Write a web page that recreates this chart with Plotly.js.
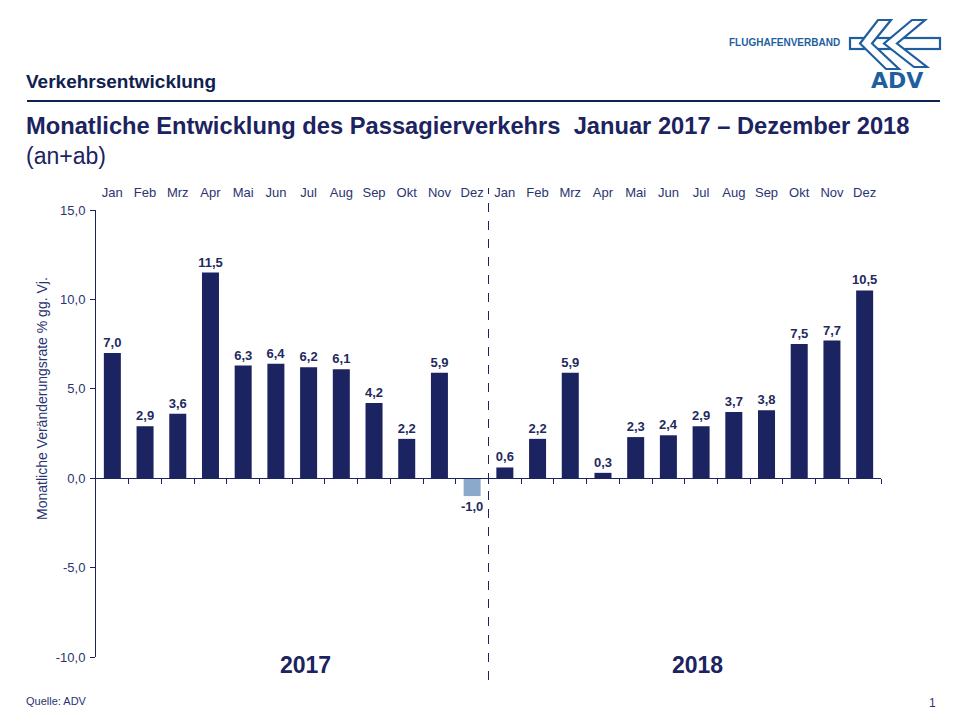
<!DOCTYPE html>
<html>
<head>
<meta charset="utf-8">
<script src="https://cdn.plot.ly/plotly-3.0.1.min.js"></script>
<style>html,body{margin:0;padding:0;background:#fff;}#chart{width:960px;height:720px;}</style>
</head>
<body>
<div id="chart"></div>
<script>
// ---- data ----
const months = ["Jan","Feb","Mrz","Apr","Mai","Jun","Jul","Aug","Sep","Okt","Nov","Dez",
                "Jan","Feb","Mrz","Apr","Mai","Jun","Jul","Aug","Sep","Okt","Nov","Dez"];
const years = ["2017","2018"];
const values = [7.0,2.9,3.6,11.5,6.3,6.4,6.2,6.1,4.2,2.2,5.9,-1.0,
                0.6,2.2,5.9,0.3,2.3,2.4,2.9,3.7,3.8,7.5,7.7,10.5];
const yTicks = [-10,-5,0,5,10,15];

// ---- layout geometry helpers (pixel -> paper) ----
const W = 960, H = 720;
const L = 96, R = 79, T = 210, B = 63;
const PW = W - L - R, PH = H - T - B;
const px = x => (x - L) / PW;
const py = y => (H - B - y) / PH;

const navy = "#1b2360";
const textNavy = "#1f2a60";
const light = "#8aa9cb";
const logoBlue = "#1f5fa0";
const font = "Liberation Sans, Arial, sans-serif";

const fmt = v => v.toFixed(1).replace(".", ",");
const idx = months.map((_, i) => i);

const bars = {
  type: "bar",
  x: idx,
  y: values,
  marker: {color: values.map(v => v < 0 ? light : navy)},
  width: 0.52,
  text: values.map(fmt),
  textposition: "outside",
  constraintext: "none",
  cliponaxis: false,
  textfont: {family: font, size: 13, color: textNavy, weight: "bold"},
  hoverinfo: "skip",
  showlegend: false
};
const dummy = {type: "scatter", x: [0], y: [0], xaxis: "x2", yaxis: "y", mode: "none", hoverinfo: "skip", showlegend: false};

// boundaries between months
const bounds = idx.map(i => i + 0.5);

const logoSvg = `<svg xmlns="http://www.w3.org/2000/svg" width="110" height="80" viewBox="0 0 110 80">
<g fill="#fff" stroke="${logoBlue}" stroke-width="2.2" stroke-linejoin="miter">
<rect x="10" y="23" width="90" height="11"/>
<polygon points="38,5 51,5 32,28.5 59,54 46,54 20,28.5"/>
<polygon points="72,5 85,5 57,28.5 87,52 74,52 44,28.5"/>
</g></svg>`;

const ann = [];
const addText = (text, x, y, size, opts = {}) => ann.push(Object.assign({
  text, xref: "paper", yref: "paper", x: px(x), y: py(y), showarrow: false,
  xanchor: "left", yanchor: "middle", borderpad: 0,
  font: {family: font, size, color: opts.color || textNavy, weight: opts.weight || "normal"}
}, opts.extra || {}));

addText("Verkehrsentwicklung", 25, 82, 19, {weight: "bold", color: "#10204f"});
addText("Monatliche Entwicklung des Passagierverkehrs  Januar 2017 – Dezember 2018", 25, 126, 23.7, {weight: "bold", color: "#1b2360"});
addText("(an+ab)", 25, 156, 23, {color: "#1b2360"});
addText("FLUGHAFENVERBAND", 841, 43, 10, {weight: "bold", color: logoBlue, extra: {xanchor: "right"}});
addText("ADV", 897, 80, 23, {weight: "bold", color: logoBlue, extra: {xanchor: "center", font: {family: "DejaVu Sans, sans-serif", size: 22, color: logoBlue, weight: "bold"}}});
addText("Quelle: ADV", 25, 701, 11, {color: "#2a3470"});
addText("1", 937, 703, 12, {color: "#2a3470", extra: {xanchor: "right"}});
// y axis title
ann.push({text: "Monatliche Veränderungsrate % gg. Vj.", xref: "paper", yref: "paper",
  x: px(42), y: py(399), showarrow: false, textangle: -90, xanchor: "center", yanchor: "middle",
  font: {family: font, size: 14, color: "#2a3470"}});
// year labels, placed under their half of the category axis
years.forEach((yr, k) => ann.push({text: yr, xref: "x", yref: "paper", x: k * 12 + 5.9, y: py(665),
  showarrow: false, xanchor: "center", yanchor: "middle",
  font: {family: font, size: 23, color: navy, weight: "bold"}}));

const layout = {
  width: W, height: H,
  margin: {l: L, r: R, t: T, b: B},
  paper_bgcolor: "#fff", plot_bgcolor: "#fff",
  separators: ",.",
  font: {family: font, color: textNavy},
  xaxis: {
    range: [-0.5, 23.5], side: "top", tickvals: idx, ticktext: months,
    ticks: "", showline: false, showgrid: false, zeroline: false, ticklabelstandoff: 9,
    tickfont: {family: font, size: 13, color: "#2a3470"}, fixedrange: true
  },
  xaxis2: {
    overlaying: "x", anchor: "free", position: 0.4, range: [-0.5, 23.5],
    tickvals: bounds, ticks: "outside", ticklen: 5, tickcolor: navy, tickwidth: 1,
    showticklabels: false, showline: true, linecolor: navy, linewidth: 1,
    showgrid: false, zeroline: false
  },
  yaxis: {
    range: [-10, 15], tickvals: yTicks, ticktext: yTicks.map(fmt),
    ticks: "outside", ticklen: 5, tickcolor: navy, showline: true, linecolor: navy, linewidth: 1,
    showgrid: false, zeroline: false, ticklabelstandoff: 2,
    tickfont: {family: font, size: 13, color: "#2a3470"}
  },
  bargap: 0.48,
  shapes: [
    {type: "line", xref: "x", yref: "paper", x0: 11.5, x1: 11.5, y0: py(680), y1: py(188),
     line: {color: navy, width: 1, dash: "dash"}},
    {type: "line", xref: "paper", yref: "paper", x0: px(27), x1: px(940), y0: py(101), y1: py(101),
     line: {color: "#10204f", width: 2}}
  ],
  images: [{source: "data:image/svg+xml;charset=utf-8," + encodeURIComponent(logoSvg),
    xref: "paper", yref: "paper", x: px(840), y: py(15), sizex: 110 / PW, sizey: 80 / PH,
    xanchor: "left", yanchor: "top", sizing: "stretch", layer: "above"}],
  annotations: ann
};

Plotly.newPlot("chart", [bars, dummy], layout, {displayModeBar: false, staticPlot: true});
</script>
</body>
</html>
